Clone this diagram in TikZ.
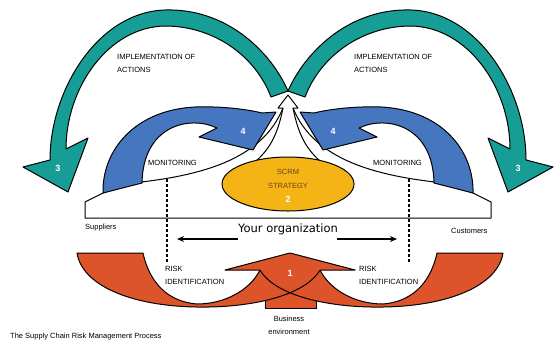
\documentclass[tikz,border=0pt]{standalone}
\usepackage{fontspec}
\setmainfont{Liberation Sans}
\newfontfamily\orgfont{DejaVu Sans}
\usetikzlibrary{arrows.meta,shapes.geometric}

\definecolor{tealarr}{RGB}{22,158,150}
\definecolor{bluearr}{RGB}{70,118,192}
\definecolor{redarr}{RGB}{222,84,42}
\definecolor{yellowell}{RGB}{245,180,22}
\definecolor{strtext}{RGB}{105,70,25}

\begin{document}
\begin{tikzpicture}[x=1pt,y=-1pt]
  \tikzstyle{outl}=[draw=black, line width=1pt, line join=round]
  \tikzstyle{lbl}=[font=\fontsize{7.5}{13}\selectfont, inner sep=0pt, anchor=west, align=left]
  \tikzstyle{num}=[font=\fontsize{9}{9}\selectfont\bfseries, text=white, inner sep=0pt]
  \tikzstyle{dots}=[line width=2.5pt, dash pattern=on 2.5pt off 2.5pt]
  \tikzstyle{orgarrow}=[line width=1.2pt, -{Stealth[length=7pt,width=6pt]}]

  \fill[white] (0,0) rectangle (556,341);
  \useasboundingbox (0,0) rectangle (556,341);

  % teal arrows (3)
  \filldraw[outl, fill=tealarr] (288,91) .. controls (270,50) and (225,8) .. (165,10)
    .. controls (98,12) and (50,90) .. (50,160) -- (23,167) -- (68,192) -- (88,138) -- (66,149)
    .. controls (66,88) and (108,27) .. (165,26) .. controls (213,26) and (255,55) .. (271,97) -- cycle;
  \begin{scope}[shift={(576,0)}, xscale=-1]
    \filldraw[outl, fill=tealarr] (288,91) .. controls (270,50) and (225,8) .. (165,10)
      .. controls (98,12) and (50,90) .. (50,160) -- (23,167) -- (68,192) -- (88,138) -- (66,149)
      .. controls (66,88) and (108,27) .. (165,26) .. controls (213,26) and (255,55) .. (271,97) -- cycle;
  \end{scope}

  % organization band with white arrow
  \filldraw[outl, fill=white] (85,218) -- (85,202) -- (103,193) -- (132,183)
    .. controls (200,176) and (262,160) .. (283,108) -- (278,108) -- (288,95) -- (298,108) -- (293,108)
    .. controls (314,160) and (376,176) .. (444,183) -- (473,193) -- (491,202) -- (491,218) -- cycle;
  \draw[outl] (283,108) .. controls (277,138) and (268,152) .. (250,166);
  \draw[outl] (293,108) .. controls (299,138) and (308,152) .. (326,166);

  % blue arrows (4)
  \filldraw[outl, fill=bluearr] (103,193) .. controls (102,150) and (135,110) .. (195,107)
    .. controls (225,106) and (250,110) .. (262,113) -- (276,112) -- (253,150) -- (199,137) -- (217,128)
    .. controls (190,115) and (143,125) .. (142,183) -- cycle;
  \begin{scope}[shift={(576,0)}, xscale=-1]
    \filldraw[outl, fill=bluearr] (103,193) .. controls (102,150) and (135,110) .. (195,107)
      .. controls (225,106) and (250,110) .. (262,113) -- (276,112) -- (253,150) -- (199,137) -- (217,128)
      .. controls (190,115) and (143,125) .. (142,183) -- cycle;
  \end{scope}

  % SCRM strategy
  \node[outl, ellipse, fill=yellowell, minimum width=132pt, minimum height=54pt, inner sep=0pt] (strat) at (288,184) {};
  \node[font=\fontsize{7.5}{8}\selectfont, text=strtext, inner sep=0pt] (scrm) at (288,172) {SCRM};
  \node[font=\fontsize{7.5}{8}\selectfont, text=strtext, inner sep=0pt] (strategy) at (288,186) {STRATEGY};
  \node[num] (n2) at (288,199) {2};

  % red arrow (1)
  \filldraw[outl, fill=redarr] (265,285) rectangle (316,308);
  \fill[redarr] (260,270) .. controls (250,290) and (225,304) .. (197,304) .. controls (170,302) and (150,285) .. (143,253)
    -- (77,253) .. controls (82,285) and (130,306) .. (197,307) .. controls (250,308) and (305,296) .. (320,270);
  \fill[redarr] (320,270) .. controls (330,290) and (355,304) .. (383,304) .. controls (410,302) and (430,285) .. (437,253)
    -- (503,253) .. controls (498,285) and (450,306) .. (383,307) .. controls (330,308) and (275,296) .. (260,270);
  \draw[outl] (260,270) .. controls (250,290) and (225,304) .. (197,304) .. controls (170,302) and (150,285) .. (143,253)
    -- (77,253) .. controls (82,285) and (130,306) .. (197,307) .. controls (250,308) and (305,296) .. (320,270);
  \draw[outl] (320,270) .. controls (330,290) and (355,304) .. (383,304) .. controls (410,302) and (430,285) .. (437,253)
    -- (503,253) .. controls (498,285) and (450,306) .. (383,307) .. controls (330,308) and (275,296) .. (260,270);
  \filldraw[outl, fill=redarr] (260,270) -- (225,270) -- (290,253) -- (355,270) -- (320,270);

  % labels
  \node[lbl] (implL) at (117,63.5) {IMPLEMENTATION OF\\ACTIONS};
  \node[lbl] (implR) at (354,63.5) {IMPLEMENTATION OF\\ACTIONS};
  \node[lbl] (monL) at (148,163) {MONITORING};
  \node[lbl] (monR) at (373,163) {MONITORING};
  \node[lbl] (supp) at (85,228) {Suppliers};
  \node[lbl] (cust) at (451,231) {Customers};
  \node[lbl] (riskL) at (165,275.5) {RISK\\IDENTIFICATION};
  \node[lbl] (riskR) at (359,275.5) {RISK\\IDENTIFICATION};
  \node[lbl, anchor=center, align=center] (busi) at (289,325) {Business\\environment};
  \node[lbl] (caption) at (10,337) {The Supply Chain Risk Management Process};
  \node[num] (n3L) at (58,168) {3};
  \node[num] (n3R) at (518,168) {3};
  \node[num] (n4L) at (243,131) {4};
  \node[num] (n4R) at (333,131) {4};
  \node[num] (n1) at (290,273) {1};

  % your organization
  \node[font=\orgfont\fontsize{11.5}{13}\selectfont, inner sep=0pt] (org) at (288,229) {Your organization};
  \coordinate (lftail) at (238,239);
  \coordinate (lfhead) at (177,239);
  \coordinate (rttail) at (337,239);
  \coordinate (rthead) at (397,239);
  \draw[orgarrow] (lftail) -- (lfhead);
  \draw[orgarrow] (rttail) -- (rthead);

  % dotted lines
  \coordinate (dotLtop) at (167,179);
  \coordinate (dotLbot) at (167,262);
  \coordinate (dotRtop) at (409,179);
  \coordinate (dotRbot) at (409,262);
  \draw[dots] (dotLtop) -- (dotLbot);
  \draw[dots] (dotRtop) -- (dotRbot);
\end{tikzpicture}
\end{document}
